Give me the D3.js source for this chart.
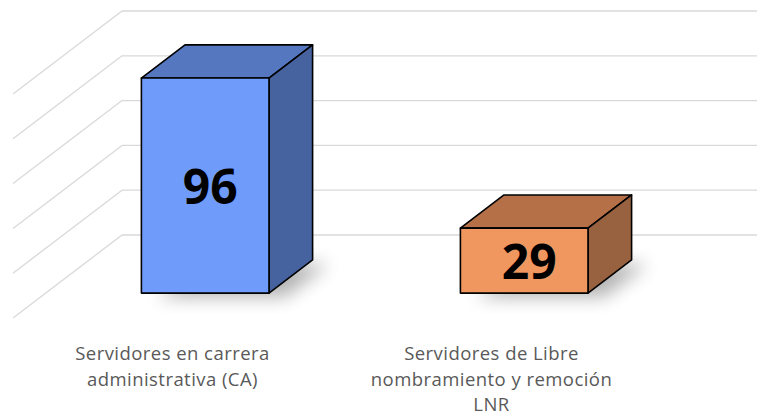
<!DOCTYPE html>
<html>
<head>
<meta charset="utf-8">
<script src="https://cdn.jsdelivr.net/npm/d3@7"></script>
<style>
  html, body { margin: 0; padding: 0; background: #fff; }
  svg { display: block; }
</style>
</head>
<body>
<div id="chart"></div>
<script>
// data
const categories = ["CA", "LNR"];
const categoryLines = [
  ["Servidores en carrera", "administrativa (CA)"],
  ["Servidores de Libre", "nombramiento y remoción", "LNR"]
];
const values = [96, 29];
const tickValues = [0, 20, 40, 60, 80, 100];

const frontColors = ["#6f9bfb", "#f0965f"];
const topColors = ["#5577c0", "#b57048"];
const sideColors = ["#4663a0", "#98613f"];

const width = 757, height = 416;

// back wall scales
const x = d3.scaleBand()
  .domain(categories)
  .range([122, 760])
  .paddingInner(0.6)
  .paddingOuter(0.3);

const y = d3.scaleLinear()
  .domain([0, 100])
  .range([235, 11]);

// depth of the floor, back to front
const depth = { x: -109, y: 83 };
const barBack = 0.3, barFront = 0.7;

function proj(px, v, f) {
  return [px + f * depth.x, y(v) + f * depth.y];
}

const svg = d3.select("#chart")
  .append("svg")
  .attr("width", width)
  .attr("height", height);

const defs = svg.append("defs");
defs.append("filter")
  .attr("id", "blur")
  .attr("x", "-50%").attr("y", "-50%")
  .attr("width", "200%").attr("height", "200%")
  .append("feGaussianBlur")
  .attr("stdDeviation", 9);

// gridlines: back wall + side wall
const grid = svg.append("g")
  .attr("stroke", "#d9d9d9")
  .attr("stroke-width", 1.3)
  .attr("fill", "none");

grid.selectAll(".hline")
  .data(tickValues)
  .enter()
  .append("line")
  .attr("x1", x.range()[0])
  .attr("x2", width)
  .attr("y1", d => y(d))
  .attr("y2", d => y(d));

grid.selectAll(".dline")
  .data(tickValues)
  .enter()
  .append("line")
  .attr("x1", x.range()[0])
  .attr("y1", d => y(d))
  .attr("x2", x.range()[0] + depth.x)
  .attr("y2", d => y(d) + depth.y);

const line = d3.line();

const bars = svg.selectAll(".bar")
  .data(categories)
  .enter()
  .append("g")
  .attr("class", "bar");

// soft shadow on the floor
bars.append("path")
  .attr("fill", "#000")
  .attr("opacity", 0.3)
  .attr("filter", "url(#blur)")
  .attr("transform", "translate(16,4)")
  .attr("d", (d) => {
    const x0 = x(d), x1 = x(d) + x.bandwidth();
    return line([
      proj(x0, 0, barFront), proj(x1, 0, barFront),
      proj(x1, 0, barBack), proj(x0, 0, barBack)
    ]) + "Z";
  });

const outline = { stroke: "#000", "stroke-width": 1.6, "stroke-linejoin": "round" };

function face(sel, pts, color) {
  const p = sel.append("path")
    .attr("d", d => line(pts(d)) + "Z")
    .attr("fill", color);
  Object.entries(outline).forEach(([k, v]) => p.attr(k, v));
}

// top
face(bars, (d) => {
  const v = values[categories.indexOf(d)];
  const x0 = x(d), x1 = x(d) + x.bandwidth();
  return [proj(x0, v, barFront), proj(x1, v, barFront), proj(x1, v, barBack), proj(x0, v, barBack)];
}, (d) => topColors[categories.indexOf(d)]);

// right side
face(bars, (d) => {
  const v = values[categories.indexOf(d)];
  const x1 = x(d) + x.bandwidth();
  return [proj(x1, 0, barFront), proj(x1, v, barFront), proj(x1, v, barBack), proj(x1, 0, barBack)];
}, (d) => sideColors[categories.indexOf(d)]);

// front
face(bars, (d) => {
  const v = values[categories.indexOf(d)];
  const x0 = x(d), x1 = x(d) + x.bandwidth();
  return [proj(x0, 0, barFront), proj(x1, 0, barFront), proj(x1, v, barFront), proj(x0, v, barFront)];
}, (d) => frontColors[categories.indexOf(d)]);

// value labels
bars.append("text")
  .attr("x", d => proj(x(d) + x.bandwidth() / 2, 0, barFront)[0] + 5)
  .attr("y", d => {
    const v = values[categories.indexOf(d)];
    return (proj(0, 0, barFront)[1] + proj(0, v, barFront)[1]) / 2;
  })
  .attr("text-anchor", "middle")
  .attr("dominant-baseline", "central")
  .attr("font-family", "'Open Sans', sans-serif")
  .attr("font-weight", "bold")
  .attr("font-size", 48)
  .attr("fill", "#000")
  .text(d => values[categories.indexOf(d)]);

// category labels at the front edge of the floor
const labels = svg.selectAll(".cat")
  .data(categories)
  .enter()
  .append("text")
  .attr("class", "cat")
  .attr("text-anchor", "middle")
  .attr("font-family", "'Open Sans', sans-serif")
  .attr("font-size", 18.5)
  .attr("letter-spacing", 0.45)
  .attr("fill", "#595959");

labels.selectAll("tspan")
  .data((d, i) => categoryLines[i].map(t => ({ t, cx: x(d) + x.bandwidth() / 2 + depth.x })))
  .enter()
  .append("tspan")
  .attr("x", d => d.cx)
  .attr("y", (d, j) => 360 + j * 25.5)
  .text(d => d.t);
</script>
</body>
</html>
